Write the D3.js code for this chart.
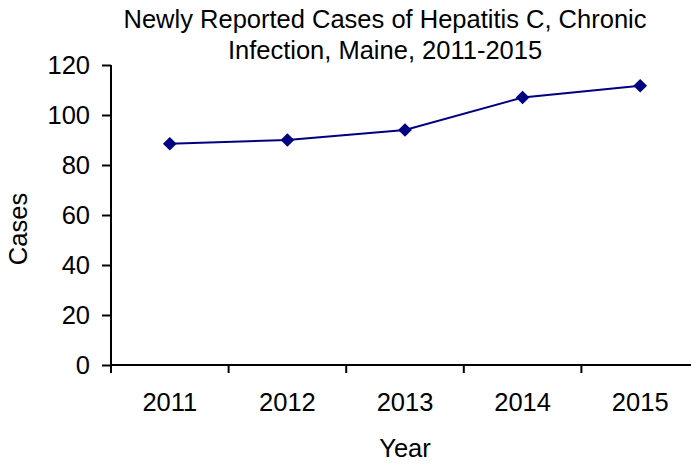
<!DOCTYPE html>
<html>
<head>
<meta charset="utf-8">
<script src="https://cdn.jsdelivr.net/npm/d3@7"></script>
<style>
  body { margin: 0; background: #fff; }
  svg text { font-family: "Liberation Sans", Arial, sans-serif; fill: #000; }
</style>
</head>
<body>
<script>
// chart data
let years = ["2011", "2012", "2013", "2014", "2015"];
let cases = [88.5, 90, 94, 107, 111.7];
let yTicks = [0, 20, 40, 60, 80, 100, 120];
let titleLines = ["Newly Reported Cases of Hepatitis C, Chronic", "Infection, Maine, 2011-2015"];

const width = 691, height = 464;
const margin = { left: 111, top: 65, right: -8, bottom: 99 };
const fs = "25.5px";

const svg = d3.select("body").append("svg")
    .attr("width", width)
    .attr("height", height);

let x = d3.scaleBand()
    .domain(years)
    .range([margin.left, width - margin.right]);

let y = d3.scaleLinear()
    .domain([0, 120])
    .range([height - margin.bottom, margin.top]);

// title
svg.append("g").selectAll("text")
    .data(titleLines)
    .enter().append("text")
    .attr("x", 385)
    .attr("y", (d, i) => 28 + i * 31)
    .attr("text-anchor", "middle")
    .style("font-size", fs)
    .text(d => d);

// y axis
let yAxis = svg.append("g")
    .attr("transform", `translate(${margin.left},0)`)
    .call(d3.axisLeft(y).tickValues(yTicks).tickSize(9).tickPadding(12));

// x axis
let xAxis = svg.append("g")
    .attr("transform", `translate(0,${height - margin.bottom})`)
    .call(d3.axisBottom(x).tickSize(0).tickPadding(28));

// x ticks on band edges
xAxis.selectAll(".edge")
    .data(years)
    .enter().append("line")
    .attr("class", "edge")
    .attr("x1", d => x(d)).attr("x2", d => x(d))
    .attr("y1", 0).attr("y2", 8)
    .attr("stroke", "#000").attr("stroke-width", 2);

[yAxis, xAxis].forEach(a => {
    a.select(".domain").attr("stroke", "#000").attr("stroke-width", 2);
    a.selectAll(".tick line").attr("stroke", "#000").attr("stroke-width", 2);
    a.selectAll("text").style("font-size", fs).attr("fill", "#000");
});
xAxis.select(".domain").attr("d", `M${margin.left},0H${width - margin.right}`);
yAxis.select(".domain").attr("d", `M0,${y(120)}V${y(0)}`);

// axis labels
svg.append("text")
    .attr("x", 405).attr("y", 457)
    .attr("text-anchor", "middle")
    .style("font-size", fs)
    .text("Year");

svg.append("text")
    .attr("transform", `translate(27,229) rotate(-90)`)
    .attr("text-anchor", "middle")
    .style("font-size", fs)
    .text("Cases");

// line
let line = d3.line()
    .x((d, i) => x(years[i]) + x.bandwidth() / 2)
    .y(d => y(d));

svg.append("path")
    .datum(cases)
    .attr("d", line)
    .attr("fill", "none")
    .attr("stroke", "#000080")
    .attr("stroke-width", 2);

svg.selectAll(".pt")
    .data(cases)
    .enter().append("path")
    .attr("class", "pt")
    .attr("d", d3.symbol().type(d3.symbolDiamond2).size(120))
    .attr("transform", (d, i) => `translate(${x(years[i]) + x.bandwidth() / 2},${y(d)})`)
    .attr("fill", "#000080");
</script>
</body>
</html>
